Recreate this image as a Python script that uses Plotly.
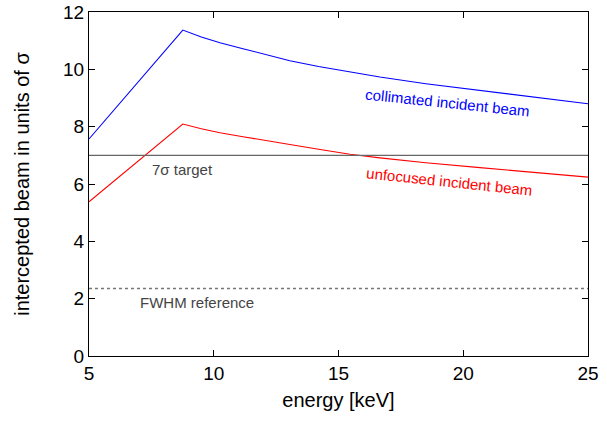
import plotly.graph_objects as go

energy = [5, 8.76, 9.5, 10.25, 11.17, 12.0, 13.05, 14.2, 15.46, 16.66, 18.5, 20.67, 23.0, 25]
collimated = [7.57, 11.37, 11.13, 10.93, 10.72, 10.53, 10.3, 10.1, 9.9, 9.73, 9.5, 9.27, 9.02, 8.80]
unfocused = [5.38, 8.09, 7.93, 7.79, 7.65, 7.52, 7.38, 7.21, 7.04, 6.91, 6.74, 6.57, 6.39, 6.24]
target_level = 7.0
fwhm_level = 2.355
x_range = [5, 25]
y_range = [0, 12]

fig = go.Figure()
fig.add_trace(go.Scatter(x=energy, y=collimated, mode="lines",
                         line=dict(color="#0000ff", width=1.1), showlegend=False))
fig.add_trace(go.Scatter(x=energy, y=unfocused, mode="lines",
                         line=dict(color="#ff0000", width=1.1), showlegend=False))
fig.add_trace(go.Scatter(x=x_range, y=[target_level, target_level], mode="lines",
                         line=dict(color="#666666", width=1.3), showlegend=False))
fig.add_trace(go.Scatter(x=x_range, y=[fwhm_level, fwhm_level], mode="lines",
                         line=dict(color="#777777", width=1.3, dash="3px,3px"), showlegend=False))

ann_font = dict(family="Liberation Sans, Arial, sans-serif", size=15)
fig.add_annotation(x=19.35, y=8.85, text="collimated incident beam", showarrow=False,
                   textangle=6, font=dict(ann_font, color="#0000ff"))
fig.add_annotation(x=19.43, y=6.1, text="unfocused incident beam", showarrow=False,
                   textangle=6, font=dict(ann_font, color="#ff0000"))
fig.add_annotation(x=8.73, y=6.5, text="7σ target", showarrow=False,
                   font=dict(ann_font, color="#444444"))
fig.add_annotation(x=9.33, y=1.85, text="FWHM reference", showarrow=False,
                   font=dict(ann_font, color="#444444"))

axis_common = dict(showgrid=False, zeroline=False, showline=True, linecolor="black",
                   linewidth=1, mirror="allticks", ticks="inside", ticklen=6,
                   tickcolor="black", tickfont=dict(size=19, color="black"),
                   automargin=False)
fig.update_xaxes(range=x_range, tickvals=[5, 10, 15, 20, 25],
                 title=dict(text="energy [keV]", font=dict(size=20, color="black"), standoff=10),
                 **axis_common)
fig.update_yaxes(range=y_range, tickvals=[0, 2, 4, 6, 8, 10, 12],
                 title=dict(text="intercepted beam in units of σ", font=dict(size=20, color="black"), standoff=28),
                 **axis_common)
fig.update_layout(width=607, height=423, margin=dict(l=89, r=19, t=12, b=67),
                  plot_bgcolor="white", paper_bgcolor="white",
                  font=dict(family="Liberation Sans, Arial, sans-serif", color="black"))
fig.write_html("out.html")
